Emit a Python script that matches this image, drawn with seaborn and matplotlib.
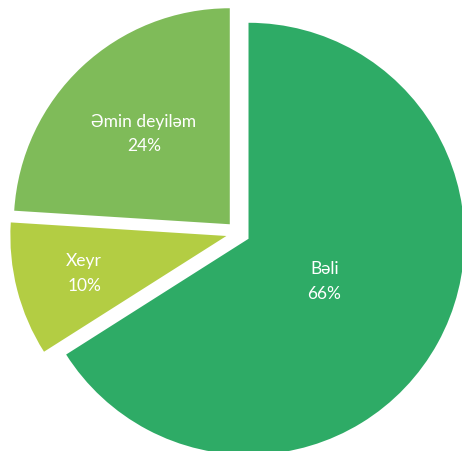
import numpy as np
import matplotlib.pyplot as plt
import seaborn as sns

# Survey answers
labels = ["Bəli", "Xeyr", "Əmin deyiləm"]
shares = [66, 10, 24]
colors = ["#2EAB66", "#B3CD43", "#7FBB59"]

sns.set_theme(style="white")
plt.rcParams["font.family"] = ["Lato", "DejaVu Sans"]

fig = plt.figure(figsize=(4.62, 4.52), dpi=100)
ax = fig.add_axes([0, 0, 1, 1])

radius = 216
wedges, _ = ax.pie(shares, colors=colors, startangle=90, counterclock=False,
                   radius=radius, center=(238, 218), explode=[12, 12, 12],
                   wedgeprops=dict(linewidth=0))

# label distance per slice (fraction of radius), as placed in the original
label_dist = [0.40, 0.68, 0.58]
for w, lab, val, d in zip(wedges, labels, shares, label_dist):
    theta = np.deg2rad((w.theta1 + w.theta2) / 2)
    cx, cy = w.center
    x = cx + d * radius * np.cos(theta)
    y = cy + d * radius * np.sin(theta)
    ax.text(x, y, f"{lab}\n{val}%", color="white", fontsize=12.5,
            ha="center", va="center", linespacing=1.65)

ax.set_xlim(0, 462)
ax.set_ylim(0, 452)
ax.set_aspect("equal")
ax.axis("off")

fig.savefig("out.png", dpi=100)
